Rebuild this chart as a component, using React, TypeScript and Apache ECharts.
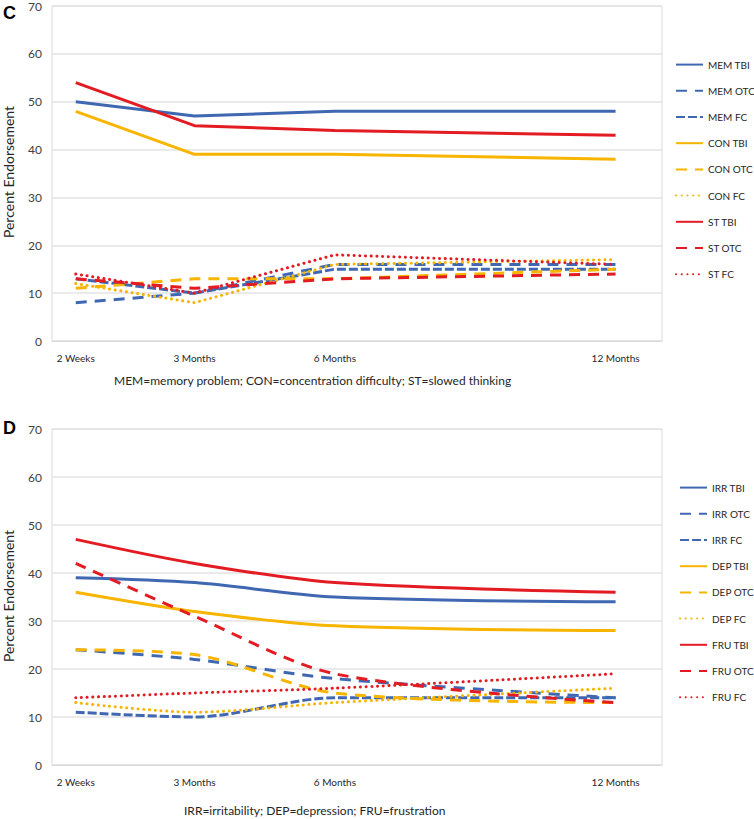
import React, { useEffect, useRef } from 'react';
import * as echarts from 'echarts';

// ---- Data ----
const timeLabels = ['2 Weeks', '3 Months', '6 Months', '12 Months'];
const timeWeeks = [2, 13, 26, 52];

// Panel C
const memTBI = [50, 47, 48, 48];
const memOTC = [8, 10, 16, 16];
const memFC = [13, 10, 15, 15];
const conTBI = [48, 39, 39, 38];
const conOTC = [11, 13, 13, 15];
const conFC = [12, 8, 16, 17];
const stTBI = [54, 45, 44, 43];
const stOTC = [13, 11, 13, 14];
const stFC = [14, 10, 18, 16];

// Panel D
const irrTBI = [39, 38, 35, 34];
const irrOTC = [24, 22, 18, 14];
const irrFC = [11, 10, 14, 14];
const depTBI = [36, 32, 29, 28];
const depOTC = [24, 23, 15, 13];
const depFC = [13, 11, 13, 16];
const fruTBI = [47, 42, 38, 36];
const fruOTC = [42, 31, 19, 13];
const fruFC = [14, 15, 16, 19];

const captionC = 'MEM=memory problem; CON=concentration difficulty; ST=slowed thinking';
const captionD = 'IRR=irritability; DEP=depression; FRU=frustration';
const yName = 'Percent Endorsement';

const BLUE = '#4068B2';
const YELLOW = '#F7B500';
const RED = '#E31B23';
const FONT = 'Lato, "Open Sans", sans-serif';

type Pat = 'solid' | 'long' | 'dash' | 'dot';

function lineStyleFor(color: string, pat: Pat) {
  const base: any = { color, width: 3 };
  if (pat === 'solid') base.type = 'solid';
  if (pat === 'long') base.type = [11, 8];
  if (pat === 'dash') base.type = [9, 3];
  if (pat === 'dot') {
    base.type = [0.1, 5.6];
    base.cap = 'round';
    base.width = 3;
  }
  return base;
}

function mk(name: string, values: number[], color: string, pat: Pat, idx: number, smooth: number) {
  return {
    name,
    type: 'line',
    xAxisIndex: idx,
    yAxisIndex: idx,
    data: values.map((v, i) => [timeWeeks[i], v]),
    symbol: 'none',
    smooth,
    itemStyle: { color },
    lineStyle: lineStyleFor(color, pat),
  };
}

export default function App() {
  const ref = useRef<HTMLDivElement>(null);
  useEffect(() => {
    if (!ref.current) return;
    const chart = echarts.init(ref.current, undefined, { renderer: 'svg' });
    const labelMap: Record<number, string> = {};
    timeWeeks.forEach((w, i) => (labelMap[w] = timeLabels[i]));

    const cSeries = [
      mk('MEM TBI', memTBI, BLUE, 'solid', 0, 0),
      mk('MEM OTC', memOTC, BLUE, 'long', 0, 0),
      mk('MEM FC', memFC, BLUE, 'dash', 0, 0),
      mk('CON TBI', conTBI, YELLOW, 'solid', 0, 0),
      mk('CON OTC', conOTC, YELLOW, 'long', 0, 0),
      mk('CON FC', conFC, YELLOW, 'dot', 0, 0),
      mk('ST TBI', stTBI, RED, 'solid', 0, 0),
      mk('ST OTC', stOTC, RED, 'long', 0, 0),
      mk('ST FC', stFC, RED, 'dot', 0, 0),
    ];
    const dSeries = [
      mk('IRR TBI', irrTBI, BLUE, 'solid', 1, 0.3),
      mk('IRR OTC', irrOTC, BLUE, 'long', 1, 0.3),
      mk('IRR FC', irrFC, BLUE, 'dash', 1, 0.3),
      mk('DEP TBI', depTBI, YELLOW, 'solid', 1, 0.3),
      mk('DEP OTC', depOTC, YELLOW, 'long', 1, 0.3),
      mk('DEP FC', depFC, YELLOW, 'dot', 1, 0.3),
      mk('FRU TBI', fruTBI, RED, 'solid', 1, 0.3),
      mk('FRU OTC', fruOTC, RED, 'long', 1, 0.3),
      mk('FRU FC', fruFC, RED, 'dot', 1, 0.3),
    ];

    const xAxisBase = (gridIndex: number) => ({
      type: 'value',
      gridIndex,
      min: -0.2,
      max: 56.3,
      axisLine: { show: true, lineStyle: { color: '#D9D9D9', width: 1 } },
      axisTick: { show: false },
      splitLine: { show: false },
      axisLabel: {
        customValues: timeWeeks,
        formatter: (v: number) => labelMap[v] ?? '',
        fontSize: 10,
        color: '#262626',
        fontFamily: FONT,
        margin: 12,
        showMinLabel: true,
        showMaxLabel: true,
      },
    });
    const yAxisBase = (gridIndex: number) => ({
      type: 'value',
      gridIndex,
      min: 0,
      max: 70,
      interval: 10,
      axisLine: { show: false },
      axisTick: { show: false },
      splitLine: { show: true, lineStyle: { color: '#E3E3E3', width: 1.5 } },
      axisLabel: { fontSize: 12, color: '#404040', fontFamily: FONT, margin: 10 },
    });
    const legendBase = (names: string[], left: number, top: number) => ({
      data: names,
      orient: 'vertical',
      left,
      top,
      padding: 0,
      itemWidth: 27,
      itemHeight: 14,
      itemGap: 15,
      itemStyle: { color: 'rgba(0,0,0,0)', borderWidth: 0, opacity: 0 },
      textStyle: { fontSize: 10, color: '#262626', fontFamily: FONT },
      selectedMode: false,
    });
    const yTitle = (cy: number) => ({
      type: 'text',
      x: 8,
      y: cy,
      rotation: Math.PI / 2,
      style: { text: yName, fontSize: 14, fill: '#262626', fontFamily: FONT, align: 'center', verticalAlign: 'middle' },
    });

    chart.setOption({
      animation: false,
      backgroundColor: '#fff',
      grid: [
        { left: 52, top: 5, width: 610, height: 336, show: true, borderColor: '#D9D9D9', borderWidth: 1 },
        { left: 52, top: 429, width: 610, height: 336, show: true, borderColor: '#D9D9D9', borderWidth: 1 },
      ],
      xAxis: [xAxisBase(0), xAxisBase(1)],
      yAxis: [yAxisBase(0), yAxisBase(1)],
      legend: [
        legendBase(cSeries.map((s) => s.name), 675, 59),
        legendBase(dSeries.map((s) => s.name), 679, 482),
      ],
      graphic: [
        { type: 'text', left: 3, top: 4, style: { text: 'C', fontSize: 18, fontWeight: 'bold', fill: '#000', fontFamily: 'Liberation Sans, Arial, sans-serif' } },
        { type: 'text', left: 3, top: 419, style: { text: 'D', fontSize: 18, fontWeight: 'bold', fill: '#000', fontFamily: 'Liberation Sans, Arial, sans-serif' } },
        { type: 'text', left: 114, top: 374, style: { text: captionC, fontSize: 12, fill: '#262626', fontFamily: FONT } },
        { type: 'text', left: 184, top: 804, style: { text: captionD, fontSize: 12, fill: '#262626', fontFamily: FONT } },
        yTitle(172),
        yTitle(596),
      ],
      series: [...cSeries, ...dSeries],
    });
    return () => chart.dispose();
  }, []);
  return <div ref={ref} style={{ position: 'absolute', left: 0, top: 0, width: 754, height: 819 }} />;
}
